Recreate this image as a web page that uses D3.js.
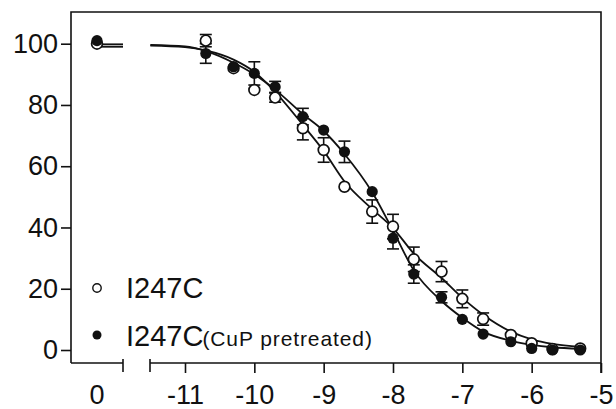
<!DOCTYPE html>
<html>
<head>
<meta charset="utf-8">
<script src="https://cdn.jsdelivr.net/npm/d3@7"></script>
<style>
  body { margin: 0; background: #fff; }
  svg text { font-family: Arial, "Liberation Sans", sans-serif; fill: #111; }
</style>
</head>
<body>
<div id="chart"></div>
<script>
// log concentrations of the dose points (right part of the broken axis)
var logConc = [-10.7, -10.3, -10, -9.7, -9.3, -9, -8.7, -8.3, -8, -7.7, -7.3, -7, -6.7, -6.3, -6, -5.7, -5.3];

// I247C (open circles)
var openVals = [101.0, 92.0, 84.9, 82.4, 72.4, 65.3, 53.3, 45.2, 40.3, 29.6, 25.6, 16.7, 10.1, 4.9, 2.2, 0.3, 0.5];
var openErr  = [2.0, 1.0, 1.0, 1.5, 3.8, 4.0, 0.8, 3.8, 4.0, 4.0, 3.3, 2.9, 2.0, 1.0, 0.5, 0.3, 0.3];

// I247C (CuP pretreated) (filled circles)
var filledVals = [96.8, 92.5, 90.3, 85.9, 76.2, 71.8, 64.7, 51.7, 36.5, 24.8, 17.2, 10.0, 5.2, 2.7, 0.5, 0.0, 0.0];
var filledErr  = [3.2, 1.0, 3.8, 1.8, 2.7, 1.0, 3.5, 1.0, 3.5, 3.0, 1.8, 0.8, 0.5, 0.5, 0.5, 0.3, 0.3];

// control (no drug) points, drawn at "0"
var ctrlOpen = 100.0, ctrlFilled = 101.0;

// fitted curves
var curveX      = [-11.5, -11, -10.7, -10.3, -10, -9.7, -9.3, -9, -8.7, -8.3, -8, -7.7, -7.3, -7, -6.7, -6.3, -6, -5.7, -5.3];
var curveOpen   = [99.4, 98.9, 97.8, 94.8, 90.8, 84.3, 73.5, 65.0, 55.0, 46.0, 39.8, 31.5, 23.5, 17.0, 11.5, 6.0, 3.5, 2.0, 1.0];
var curveFilled = [99.6, 99.1, 97.6, 93.8, 90.0, 85.0, 77.0, 71.5, 64.0, 51.5, 39.0, 26.0, 16.0, 10.5, 6.0, 3.0, 1.7, 0.9, 0.4];
var plateauOpen = 99.8, plateauFilled = 99.0;

var yTicks = [0, 20, 40, 60, 80, 100];
var xTicks = [-11, -10, -9, -8, -7, -6, -5];

var W = 616, H = 409;
var plot = {left: 71, right: 601, top: 12, bottom: 363};

var svg = d3.select("#chart").append("svg")
  .attr("width", W).attr("height", H);

var y = d3.scaleLinear().domain([0, 100]).range([350, 43.7]);
var xR = d3.scaleLinear().domain([-11, -5]).range([185, 601]);
var xL = d3.scaleLinear().domain([-1, 1]).range([71, 123]);
var breakStart = 123, breakEnd = 150;

var ink = "#111";
var tickFont = "27px";

// frame: left, top, right + broken bottom
var frame = svg.append("g").attr("stroke", ink).attr("stroke-width", 1.6).attr("fill", "none");
frame.append("path")
  .attr("d", "M" + plot.left + "," + plot.bottom + "V" + plot.top + "H" + plot.right + "V" + (plot.bottom + 10));
frame.append("line").attr("x1", plot.left).attr("x2", breakStart).attr("y1", plot.bottom).attr("y2", plot.bottom);
frame.append("line").attr("x1", breakEnd).attr("x2", plot.right).attr("y1", plot.bottom).attr("y2", plot.bottom);
// break caps
[breakStart, breakEnd].forEach(function(bx) {
  frame.append("line").attr("x1", bx).attr("x2", bx).attr("y1", plot.bottom - 4).attr("y2", plot.bottom + 9);
});

// y axis
var yAxis = svg.append("g")
  .attr("transform", "translate(" + plot.left + ",0)")
  .call(d3.axisLeft(y).tickValues(yTicks).tickSize(10).tickPadding(3));
yAxis.select(".domain").remove();

// x axis (right part)
var xAxis = svg.append("g")
  .attr("transform", "translate(0," + plot.bottom + ")")
  .call(d3.axisBottom(xR).tickValues(xTicks).tickSize(10).tickPadding(12)
    .tickFormat(function(d) { return d < 0 ? "-" + Math.abs(d) : d; }));
xAxis.select(".domain").remove();

// "0" label on the left part
svg.append("text")
  .attr("x", xL(0)).attr("y", 404)
  .attr("text-anchor", "middle")
  .style("font-size", tickFont)
  .text("0");

svg.selectAll(".tick line").attr("stroke", ink).attr("stroke-width", 1.6);
svg.selectAll(".tick text").style("font-size", tickFont).attr("fill", ink);

// curves
var line = d3.line()
  .x(function(d) { return xR(d[0]); })
  .y(function(d) { return y(d[1]); })
  .curve(d3.curveMonotoneX);

var curves = svg.append("g").attr("fill", "none").attr("stroke", ink).attr("stroke-width", 1.8);
[curveOpen, curveFilled].forEach(function(vals) {
  curves.append("path").attr("d", line(curveX.map(function(c, i) { return [c, vals[i]]; })));
});
[plateauOpen, plateauFilled].forEach(function(v) {
  curves.append("line")
    .attr("x1", xL(0)).attr("x2", xL(1))
    .attr("y1", y(v)).attr("y2", y(v));
});

// error bars
function errBars(vals, errs) {
  var g = svg.append("g").attr("stroke", ink).attr("stroke-width", 1.6);
  logConc.forEach(function(c, i) {
    if (errs[i] < 1.2) return;
    var cx = xR(c), y0 = y(vals[i] - errs[i]), y1 = y(vals[i] + errs[i]);
    g.append("line").attr("x1", cx).attr("x2", cx).attr("y1", y0).attr("y2", y1);
    g.append("line").attr("x1", cx - 6).attr("x2", cx + 6).attr("y1", y0).attr("y2", y0);
    g.append("line").attr("x1", cx - 6).attr("x2", cx + 6).attr("y1", y1).attr("y2", y1);
  });
}
errBars(openVals, openErr);
errBars(filledVals, filledErr);

// points
svg.append("g").selectAll("circle")
  .data(logConc.map(function(c, i) { return [c, openVals[i]]; }))
  .join("circle")
  .attr("cx", function(d) { return xR(d[0]); })
  .attr("cy", function(d) { return y(d[1]); })
  .attr("r", 5.4)
  .attr("fill", "#fff").attr("stroke", ink).attr("stroke-width", 1.7);

svg.append("g").selectAll("circle")
  .data(logConc.map(function(c, i) { return [c, filledVals[i]]; }))
  .join("circle")
  .attr("cx", function(d) { return xR(d[0]); })
  .attr("cy", function(d) { return y(d[1]); })
  .attr("r", 5.6)
  .attr("fill", ink);

svg.append("circle").attr("cx", xL(0)).attr("cy", y(ctrlOpen)).attr("r", 5.4)
  .attr("fill", "#fff").attr("stroke", ink).attr("stroke-width", 1.7);
svg.append("circle").attr("cx", xL(0)).attr("cy", y(ctrlFilled)).attr("r", 5.6).attr("fill", ink);

// legend
var leg = svg.append("g");
leg.append("circle").attr("cx", 97).attr("cy", 288).attr("r", 4.2)
  .attr("fill", "#fff").attr("stroke", ink).attr("stroke-width", 1.4);
leg.append("text").attr("x", 126).attr("y", 298).style("font-size", "29px").text("I247C");
leg.append("circle").attr("cx", 97).attr("cy", 335).attr("r", 4.5).attr("fill", ink);
var t2 = leg.append("text").attr("x", 126).attr("y", 346).style("font-size", "29px");
t2.append("tspan").text("I247C");
t2.append("tspan").style("font-size", "21px").style("letter-spacing", "0.9px").attr("dx", -1).text("(CuP pretreated)");
</script>
</body>
</html>
